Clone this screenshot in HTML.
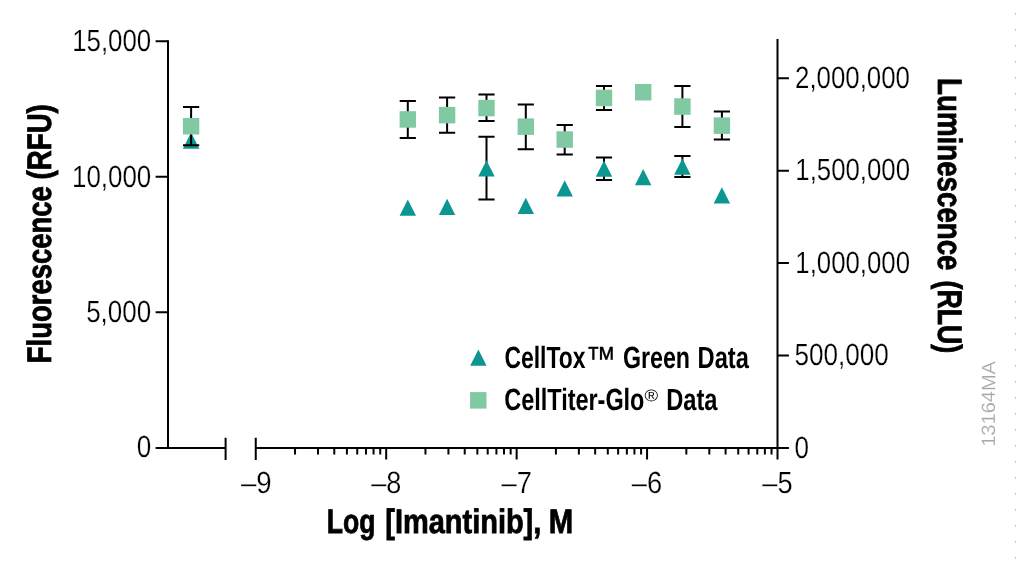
<!DOCTYPE html><html><head><meta charset="utf-8"><title>Chart</title><style>html,body{margin:0;padding:0;background:#fff}svg{display:block}text{font-family:"Liberation Sans",sans-serif;text-rendering:geometricPrecision}</style></head><body>
<svg width="1016" height="564" viewBox="0 0 1016 564">
<rect width="1016" height="564" fill="#fff"/>
<line x1="1015.7" y1="12.9" x2="1015.7" y2="564" stroke="#b4b4b4" stroke-width="1.6" stroke-dasharray="1.6 14.4"/>
<path stroke="#000" stroke-width="2.0" fill="none" d="M168.0 40.2V447.9H225.6M255.8 447.9H777.5V39.0"/>
<path stroke="#000" stroke-width="2.0" fill="none" d="M155.6 41.2H168.0M155.6 176.8H168.0M155.6 312.3H168.0M155.6 447.9H168.0M777.5 78.3H788.9M777.5 170.7H788.9M777.5 263.1H788.9M777.5 355.5H788.9M777.5 447.9H788.9M225.6 437.7V459.9M255.75 437.7V459.9M295.02 447.9V454.6M317.99 447.9V454.6M334.28 447.9V454.6M346.92 447.9V454.6M357.25 447.9V454.6M365.98 447.9V454.6M373.55 447.9V454.6M380.22 447.9V454.6M386.19 447.9V459.5M425.46 447.9V454.6M448.43 447.9V454.6M464.72 447.9V454.6M477.36 447.9V454.6M487.69 447.9V454.6M496.42 447.9V454.6M503.99 447.9V454.6M510.66 447.9V454.6M516.63 447.9V459.5M555.90 447.9V454.6M578.87 447.9V454.6M595.16 447.9V454.6M607.80 447.9V454.6M618.13 447.9V454.6M626.86 447.9V454.6M634.43 447.9V454.6M641.10 447.9V454.6M647.07 447.9V459.5M686.34 447.9V454.6M709.31 447.9V454.6M725.60 447.9V454.6M738.24 447.9V454.6M748.57 447.9V454.6M757.30 447.9V454.6M764.87 447.9V454.6M771.54 447.9V454.6M777.51 447.9V459.5"/>
<text transform="rotate(0.03 72.20 51.00)" x="72.20" y="51.00" font-size="30.7" font-weight="normal" textLength="79.06" lengthAdjust="spacingAndGlyphs" stroke="#fff" stroke-width="0.25">15,000</text>
<text transform="rotate(0.03 72.00 186.60)" x="72.00" y="186.60" font-size="30.7" font-weight="normal" textLength="79.21" lengthAdjust="spacingAndGlyphs" stroke="#fff" stroke-width="0.25">10,000</text>
<text transform="rotate(0.03 86.15 321.90)" x="86.15" y="321.90" font-size="30.7" font-weight="normal" textLength="64.98" lengthAdjust="spacingAndGlyphs" stroke="#fff" stroke-width="0.25">5,000</text>
<text transform="rotate(0.03 136.80 457.50)" x="136.80" y="457.50" font-size="30.7" font-weight="normal" textLength="14.49" lengthAdjust="spacingAndGlyphs" stroke="#fff" stroke-width="0.25">0</text>
<text transform="rotate(0.03 795.05 87.70)" x="795.05" y="87.70" font-size="30.7" font-weight="normal" textLength="114.94" lengthAdjust="spacingAndGlyphs" stroke="#fff" stroke-width="0.25">2,000,000</text>
<text transform="rotate(0.03 795.30 180.40)" x="795.30" y="180.40" font-size="30.7" font-weight="normal" textLength="114.73" lengthAdjust="spacingAndGlyphs" stroke="#fff" stroke-width="0.25">1,500,000</text>
<text transform="rotate(0.03 795.30 272.80)" x="795.30" y="272.80" font-size="30.7" font-weight="normal" textLength="114.73" lengthAdjust="spacingAndGlyphs" stroke="#fff" stroke-width="0.25">1,000,000</text>
<text transform="rotate(0.03 794.55 365.30)" x="794.55" y="365.30" font-size="30.7" font-weight="normal" textLength="94.26" lengthAdjust="spacingAndGlyphs" stroke="#fff" stroke-width="0.25">500,000</text>
<text transform="rotate(0.03 794.50 457.70)" x="794.50" y="457.70" font-size="30.7" font-weight="normal" textLength="14.49" lengthAdjust="spacingAndGlyphs" stroke="#fff" stroke-width="0.25">0</text>
<text transform="rotate(0.03 241.00 493.00)" x="241.00" y="493.00" font-size="30.7" font-weight="normal" textLength="30.75" lengthAdjust="spacingAndGlyphs" stroke="#fff" stroke-width="0.25">–9</text>
<text transform="rotate(0.03 371.20 493.00)" x="371.20" y="493.00" font-size="30.7" font-weight="normal" textLength="30.1" lengthAdjust="spacingAndGlyphs" stroke="#fff" stroke-width="0.25">–8</text>
<text transform="rotate(0.03 501.50 493.00)" x="501.50" y="493.00" font-size="30.7" font-weight="normal" textLength="30.37" lengthAdjust="spacingAndGlyphs" stroke="#fff" stroke-width="0.25">–7</text>
<text transform="rotate(0.03 631.70 493.00)" x="631.70" y="493.00" font-size="30.7" font-weight="normal" textLength="30.45" lengthAdjust="spacingAndGlyphs" stroke="#fff" stroke-width="0.25">–6</text>
<text transform="rotate(0.03 762.30 493.00)" x="762.30" y="493.00" font-size="30.7" font-weight="normal" textLength="30.31" lengthAdjust="spacingAndGlyphs" stroke="#fff" stroke-width="0.25">–5</text>
<text transform="rotate(0.03 326.75 533.10)" x="326.75" y="533.10" font-size="34.0" font-weight="bold" textLength="48.64" lengthAdjust="spacingAndGlyphs" stroke="#000" stroke-width="0.8">Log</text>
<text transform="rotate(0.03 385.35 533.10)" x="385.35" y="533.10" font-size="34.0" font-weight="bold" textLength="155.95" lengthAdjust="spacingAndGlyphs" stroke="#000" stroke-width="0.8">[Imantinib],</text>
<text transform="rotate(0.03 548.70 533.10)" x="548.70" y="533.10" font-size="34.0" font-weight="bold" textLength="24.42" lengthAdjust="spacingAndGlyphs" stroke="#000" stroke-width="0.8">M</text>
<g transform="translate(51.4 0) rotate(-90)">
<text transform="rotate(0.03 -363.20 0.00)" x="-363.20" y="0.00" font-size="34.0" font-weight="bold" textLength="176.92" lengthAdjust="spacingAndGlyphs" stroke="#000" stroke-width="0.8">Fluorescence</text>
<text transform="rotate(0.03 -179.40 0.00)" x="-179.40" y="0.00" font-size="34.0" font-weight="bold" textLength="75.2" lengthAdjust="spacingAndGlyphs" stroke="#000" stroke-width="0.8">(RFU)</text>
</g>
<g transform="translate(938.1 0) rotate(90)">
<text transform="rotate(0.03 78.10 0.00)" x="78.10" y="0.00" font-size="34.0" font-weight="bold" textLength="192.43" lengthAdjust="spacingAndGlyphs" stroke="#000" stroke-width="0.8">Luminescence</text>
<text transform="rotate(0.03 280.50 0.00)" x="280.50" y="0.00" font-size="34.0" font-weight="bold" textLength="72.65" lengthAdjust="spacingAndGlyphs" stroke="#000" stroke-width="0.8">(RLU)</text>
</g>
<g transform="translate(995.1 0) rotate(-90)">
<text transform="rotate(0.03 -446.80 0.00)" x="-446.80" y="0.00" font-size="19.3" font-weight="normal" fill="#a6a6a6" textLength="85.79" lengthAdjust="spacingAndGlyphs" stroke="#fff" stroke-width="0.2">13164MA</text>
</g>
<text transform="rotate(0.03 504.55 367.60)" x="504.55" y="367.60" font-size="30.7" font-weight="bold" textLength="80.86" lengthAdjust="spacingAndGlyphs">CellTox</text>
<text transform="rotate(0.03 585.70 369.55)" x="585.70" y="369.55" font-size="33.5" font-weight="normal" textLength="30.37" lengthAdjust="spacingAndGlyphs" stroke="#000" stroke-width="0.3">™</text>
<text transform="rotate(0.03 623.00 367.60)" x="623.00" y="367.60" font-size="30.7" font-weight="bold" textLength="67.02" lengthAdjust="spacingAndGlyphs">Green</text>
<text transform="rotate(0.03 697.60 367.60)" x="697.60" y="367.60" font-size="30.7" font-weight="bold" textLength="51.28" lengthAdjust="spacingAndGlyphs">Data</text>
<text transform="rotate(0.03 504.30 409.80)" x="504.30" y="409.80" font-size="30.7" font-weight="bold" textLength="140.12" lengthAdjust="spacingAndGlyphs">CellTiter-Glo</text>
<text transform="rotate(0.03 644.55 401.20)" x="644.55" y="401.20" font-size="17" font-weight="normal" textLength="13.57" lengthAdjust="spacingAndGlyphs">®</text>
<text transform="rotate(0.03 666.20 409.80)" x="666.20" y="409.80" font-size="30.7" font-weight="bold" textLength="51.33" lengthAdjust="spacingAndGlyphs">Data</text>
<path fill="#0c9691" d="M478.4 349.59999999999997L486.59999999999997 365.8H470.2Z"/>
<rect fill="#80c9a2" x="470.1" y="392.09999999999997" width="16.4" height="16.5"/>
<path stroke="#000" stroke-width="2.0" fill="none" d="M478.4 136.7H494.6M478.4 199.6H494.6M486.5 136.7V199.6"/>
<path stroke="#000" stroke-width="2.0" fill="none" d="M595.9 157.6H612.1M595.9 179.9H612.1M604.0 157.6V179.9"/>
<path stroke="#000" stroke-width="2.0" fill="none" d="M674.3 156.0H690.5M674.3 176.9H690.5M682.4 156.0V176.9"/>
<path fill="#0c9691" d="M191.1 132.6L199.29999999999998 148.79999999999998H182.9Z"/>
<path fill="#0c9691" d="M407.8 199.5L416.0 215.7H399.6Z"/>
<path fill="#0c9691" d="M447.1 198.70000000000002L455.3 214.9H438.90000000000003Z"/>
<path fill="#0c9691" d="M486.5 160.20000000000002L494.7 176.4H478.3Z"/>
<path fill="#0c9691" d="M525.8 197.8L534.0 214.0H517.5999999999999Z"/>
<path fill="#0c9691" d="M564.7 180.20000000000002L572.9000000000001 196.4H556.5Z"/>
<path fill="#0c9691" d="M604.0 160.5L612.2 176.7H595.8Z"/>
<path fill="#0c9691" d="M643.2 169.1L651.4000000000001 185.29999999999998H635.0Z"/>
<path fill="#0c9691" d="M682.4 158.5L690.6 174.7H674.1999999999999Z"/>
<path fill="#0c9691" d="M721.9 187.20000000000002L730.1 203.4H713.6999999999999Z"/>
<path stroke="#000" stroke-width="2.0" fill="none" d="M183.0 107.0H199.2M183.0 145.3H199.2M191.1 107.0V145.3"/>
<path stroke="#000" stroke-width="2.0" fill="none" d="M399.7 100.9H415.90000000000003M399.7 138.0H415.90000000000003M407.8 100.9V138.0"/>
<path stroke="#000" stroke-width="2.0" fill="none" d="M439.0 97.5H455.20000000000005M439.0 132.8H455.20000000000005M447.1 97.5V132.8"/>
<path stroke="#000" stroke-width="2.0" fill="none" d="M478.4 94.6H494.6M478.4 121.1H494.6M486.5 94.6V121.1"/>
<path stroke="#000" stroke-width="2.0" fill="none" d="M517.6999999999999 104.5H533.9M517.6999999999999 149.2H533.9M525.8 104.5V149.2"/>
<path stroke="#000" stroke-width="2.0" fill="none" d="M556.6 125.0H572.8000000000001M556.6 154.5H572.8000000000001M564.7 125.0V154.5"/>
<path stroke="#000" stroke-width="2.0" fill="none" d="M595.9 85.9H612.1M595.9 110.1H612.1M604.0 85.9V110.1"/>
<path stroke="#000" stroke-width="2.0" fill="none" d="M674.3 85.9H690.5M674.3 127.0H690.5M682.4 85.9V127.0"/>
<path stroke="#000" stroke-width="2.0" fill="none" d="M713.8 111.6H730.0M713.8 139.5H730.0M721.9 111.6V139.5"/>
<rect fill="#80c9a2" x="182.9" y="118.0" width="16.4" height="16.5"/>
<rect fill="#80c9a2" x="399.6" y="111.2" width="16.4" height="16.5"/>
<rect fill="#80c9a2" x="438.90000000000003" y="106.9" width="16.4" height="16.5"/>
<rect fill="#80c9a2" x="478.3" y="99.80000000000001" width="16.4" height="16.5"/>
<rect fill="#80c9a2" x="517.5999999999999" y="118.4" width="16.4" height="16.5"/>
<rect fill="#80c9a2" x="556.5" y="131.3" width="16.4" height="16.5"/>
<rect fill="#80c9a2" x="595.8" y="89.7" width="16.4" height="16.5"/>
<rect fill="#80c9a2" x="635.0" y="84.0" width="16.4" height="16.5"/>
<rect fill="#80c9a2" x="674.1999999999999" y="98.30000000000001" width="16.4" height="16.5"/>
<rect fill="#80c9a2" x="713.6999999999999" y="117.4" width="16.4" height="16.5"/>
</svg></body></html>
